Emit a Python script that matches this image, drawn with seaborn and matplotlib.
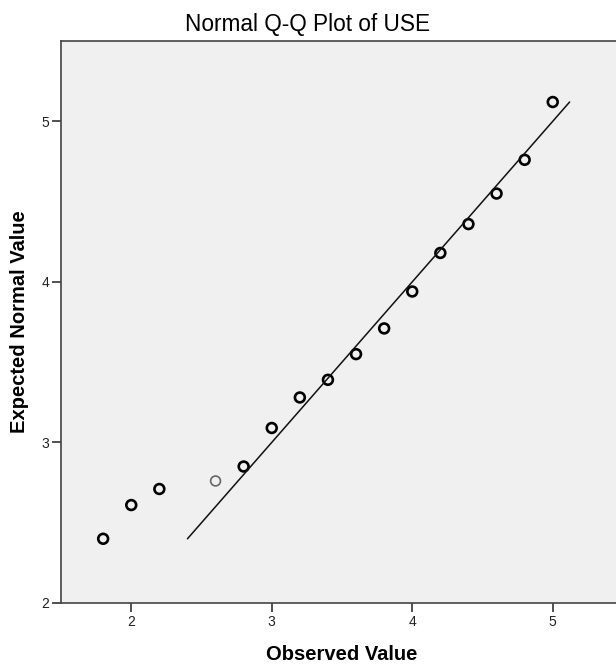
import matplotlib
matplotlib.use("Agg")
import matplotlib.pyplot as plt
import seaborn as sns
import pandas as pd

# Observed USE scores and their expected normal quantiles
observed = [1.8, 2.0, 2.2, 2.6, 2.8, 3.0, 3.2, 3.4, 3.6, 3.8, 4.0, 4.2, 4.4, 4.6, 4.8, 5.0]
expected = [2.40, 2.61, 2.71, 2.76, 2.85, 3.09, 3.28, 3.39, 3.55, 3.71, 3.94, 4.18, 4.36, 4.55, 4.76, 5.12]
# observed values held by a single case (drawn with a lighter ring)
single_case = [2.6]

x_ticks = [2, 3, 4, 5]
y_ticks = [2, 3, 4, 5]

sns.set_style("white")
plt.rcParams["font.family"] = ["Liberation Sans", "DejaVu Sans"]
plt.rcParams["text.color"] = "#000000"
plt.rcParams["axes.labelcolor"] = "#000000"

df = pd.DataFrame({"Observed Value": observed, "Expected Normal Value": expected})
df["single"] = df["Observed Value"].isin(single_case)

fig = plt.figure(figsize=(6.16, 6.68), dpi=100)
ax = fig.add_axes([61 / 616, 1 - 603 / 668, 562 / 616, 562 / 668])
ax.set_facecolor("#f0f0f0")

# reference line y = x over the range of expected values
lo, hi = min(expected), max(expected)
sns.lineplot(x=[lo, hi], y=[lo, hi], ax=ax, color="#111111", linewidth=1.1)

multi = df[~df["single"]]
one = df[df["single"]]
sns.scatterplot(data=multi, x="Observed Value", y="Expected Normal Value", ax=ax,
                marker="o", s=50, facecolor="none", edgecolor="#000000", linewidth=1.9)
sns.scatterplot(data=one, x="Observed Value", y="Expected Normal Value", ax=ax,
                marker="o", s=50, facecolor="none", edgecolor="#666666", linewidth=1.2)

ax.set_xlim(1.5, 5.5)
ax.set_ylim(2, 5.5)
ax.set_xticks(x_ticks)
ax.set_yticks(y_ticks)
ax.tick_params(axis="both", direction="out", length=6.5, width=1.2, color="#333333",
               labelsize=10, labelcolor="#222222", pad=2, bottom=True, left=True)

for side in ["left", "bottom", "top"]:
    ax.spines[side].set_color("#444444")
    ax.spines[side].set_linewidth(1.2)
ax.spines["right"].set_visible(False)

ax.set_xlabel("Observed Value", fontsize=14.5, fontweight="bold", labelpad=12)
ax.set_ylabel("Expected Normal Value", fontsize=14.5, fontweight="bold")
ax.yaxis.set_label_coords(-0.057, 0.5)
fig.text(0.5, 1 - 24 / 668, "Normal Q-Q Plot of USE", fontsize=16.3, ha="center", va="center",
         color="#000000")

fig.savefig("out.png", dpi=100)
